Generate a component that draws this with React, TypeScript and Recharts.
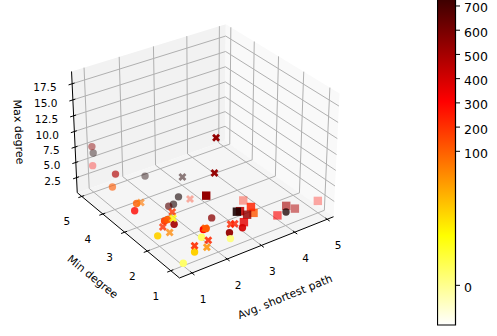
import { Bar, BarChart, Customized, Scatter, ScatterChart, XAxis, YAxis } from "recharts"

const FONT = "DejaVu Sans"
const W = 497
const H = 336

// [avg shortest path, min degree, max degree, colour value]
const circles = [
  [1.0, 5, 4.4, 300], [1.03, 5, 6.4, 800], [1.0, 5, 7.5, 560], [1.05, 4, 5.7, 480],
  [1.9, 4, 3.7, 800], [0.95, 4, 3.8, 110], [2.22, 3, 2.5, 820], [2.07, 3, 1.6, 800],
  [1.93, 3, 1.55, 680], [0.95, 3, 2.85, 290], [1.42, 2, 2.65, 500], [1.0, 1, 0.4, 10],
  [0.95, 2, 1.8, 55], [1.32, 1, 1.5, 55], [2.51, 2, 1.4, 560], [2.32, 1, 2.4, 540],
  [2.7, 1, 2.4, 400], [4.0, 1, 2.2, 800], [1.57, 1, 4.5, 290], [1.65, 1, 4.5, 110],
  [1.52, 1, 3.4, 10], [2.35, 1, 1.4, 5], [1.15, 2, 3.75, 170], [1.24, 2, 3.8, 110],
  [1.01, 3, 3.9, 100],
]

const crosses = [
  [1.92, 1, 17.8, 540], [1.88, 1, 12.6, 540], [2.34, 3, 5.5, 780], [2.56, 3, 1.45, 230],
  [1.13, 3, 3.8, 90], [1.37, 2, 4.7, 190], [1.39, 2, 3.7, 40], [1.1, 2, 2.9, 200],
  [1.29, 2, 1.6, 85], [1.32, 1, 2.5, 210], [1.67, 1, 1.5, 80], [1.71, 1, 2.5, 220],
  [1.62, 1, 4.6, 110], [2.35, 1, 3.7, 220], [2.47, 1, 3.5, 240],
]

const squares = [
  [1.65, 1, 9.6, 540], [3.45, 2, 2.3, 250], [4.98, 1, 2.0, 280], [4.0, 1, 3.2, 500],
  [4.27, 1, 2.2, 480], [3.74, 1, 2.2, 310], [3.02, 1, 4.1, 120], [2.94, 1, 5.2, 230],
  [2.62, 1, 5.2, 440], [2.53, 1, 5.3, 800], [2.83, 1, 4.2, 540], [2.74, 1, 3.2, 360],
]

const pathTicks = [1, 2, 3, 4, 5]
const minDegreeTicks = [1, 2, 3, 4, 5]
const maxDegreeTicks = [2.5, 5, 7.5, 10, 12.5, 15, 17.5]
const colorTicks = [0, 100, 200, 300, 400, 500, 600, 700]

// axis limits of the 3d box
const xLim = [0.65, 5.2]
const yLim = [0.64, 5.22]
const zLim = [0, 19.4]

// view_init(30, -125) style camera
const el = (30 * Math.PI) / 180
const az = (-125 * Math.PI) / 180
const BOX_XY = 1.1905
const BOX_Z = 0.8929
const DIST = 10
const u = [-Math.sin(az), Math.cos(az), 0]
const v = [-Math.sin(el) * Math.cos(az), -Math.sin(el) * Math.sin(az), Math.cos(el)]
const n = [Math.cos(el) * Math.cos(az), Math.cos(el) * Math.sin(az), Math.sin(el)]
const dot = (a: number[], b: number[]) => a[0] * b[0] + a[1] * b[1] + a[2] * b[2]

const box = (x: number, y: number, z: number) => [
  ((x - xLim[0]) / (xLim[1] - xLim[0]) - 0.5) * BOX_XY,
  ((y - yLim[0]) / (yLim[1] - yLim[0]) - 0.5) * BOX_XY,
  ((z - zLim[0]) / (zLim[1] - zLim[0]) - 0.5) * BOX_Z,
]

function project(x: number, y: number, z: number) {
  const p = box(x, y, z)
  const f = DIST / (DIST - dot(p, n))
  return { sx: 203.8 + 158 * f * dot(p, u), sy: 144.8 - 158 * f * dot(p, v) }
}

// the colorbar is piecewise linear: 0..100 is stretched, 100..700 is even
function colorFraction(val: number) {
  if (val <= 100) return 0.1127 + (val / 100) * 0.3807
  return 0.4934 + ((val - 100) / 600) * 0.4129
}

function colorOf(val: number) {
  const t = 1 - Math.min(1, colorFraction(val))
  const clip = (a: number) => Math.round(255 * Math.max(0, Math.min(1, a)))
  const r = clip(0.0416 + (0.9584 * t) / 0.365)
  const g = clip((t - 0.365) / 0.381)
  const b = clip((t - 0.746) / 0.254)
  return `rgb(${r},${g},${b})`
}

function buildSeries(rows: number[][]) {
  const depths = rows.map((r) => -dot(box(r[0], r[1], r[2]), n))
  const lo = Math.min(...depths)
  const hi = Math.max(...depths)
  return rows.map((r, i) => ({
    ...project(r[0], r[1], r[2]),
    fill: colorOf(r[3]),
    alpha: 1 - Math.pow((depths[i] - lo) / (hi - lo), 1.7) * 0.65,
  }))
}

const CircleMark = (props: any) => (
  <circle cx={props.cx} cy={props.cy} r={3.7} fill={props.payload.fill} fillOpacity={props.payload.alpha} />
)
const SquareMark = (props: any) => (
  <rect x={props.cx - 4.2} y={props.cy - 4.2} width={8.4} height={8.4} fill={props.payload.fill} fillOpacity={props.payload.alpha} />
)
const CrossMark = (props: any) => {
  const { cx, cy } = props
  const a = 4
  const b = 2
  const d = `M${cx - a + b},${cy - a}L${cx},${cy - b}L${cx + a - b},${cy - a}L${cx + a},${cy - a + b}L${cx + b},${cy}L${cx + a},${cy + a - b}L${cx + a - b},${cy + a}L${cx},${cy + b}L${cx - a + b},${cy + a}L${cx - a},${cy + a - b}L${cx - b},${cy}L${cx - a},${cy - a + b}Z`
  return <path d={d} fill={props.payload.fill} fillOpacity={props.payload.alpha} />
}

const poly = (pts: { sx: number; sy: number }[]) => pts.map((p) => `${p.sx},${p.sy}`).join(" ")

function Seg({ a, b, color, w }: any) {
  return <line x1={a.sx} y1={a.sy} x2={b.sx} y2={b.sy} stroke={color} strokeWidth={w} />
}

function Frame() {
  const [x0, x1] = xLim
  const [y0, y1] = yLim
  const [z0, z1] = zLim
  const grid = "#b0b0b0"
  return (
    <g fontFamily={FONT} fontSize={10.5} fill="#000">
      <polygon points={poly([project(x0, y1, z0), project(x1, y1, z0), project(x1, y1, z1), project(x0, y1, z1)])} fill="#f2f2f2" />
      <polygon points={poly([project(x1, y0, z0), project(x1, y1, z0), project(x1, y1, z1), project(x1, y0, z1)])} fill="#f9f9f9" />
      <polygon points={poly([project(x0, y0, z0), project(x1, y0, z0), project(x1, y1, z0), project(x0, y1, z0)])} fill="#f5f5f5" />
      {pathTicks.map((t) => (
        <g key={`x${t}`}>
          <polyline points={poly([project(t, y0, z0), project(t, y1, z0), project(t, y1, z1)])} fill="none" stroke={grid} strokeWidth={1} />
          <Seg a={project(t, y0 + 0.07, z0)} b={project(t, y0 - 0.1, z0)} color="#000" w={1} />
          <text x={project(t, y0, z0).sx + 11} y={project(t, y0, z0).sy + 26} textAnchor="middle" dominantBaseline="central">{t}</text>
        </g>
      ))}
      {minDegreeTicks.map((t) => (
        <g key={`y${t}`}>
          <polyline points={poly([project(x0, t, z0), project(x1, t, z0), project(x1, t, z1)])} fill="none" stroke={grid} strokeWidth={1} />
          <Seg a={project(x0 + 0.07, t, z0)} b={project(x0 - 0.1, t, z0)} color="#000" w={1} />
          <text x={project(x0, t, z0).sx - 15} y={project(x0, t, z0).sy + 25} textAnchor="middle" dominantBaseline="central">{t}</text>
        </g>
      ))}
      {maxDegreeTicks.map((t) => (
        <g key={`z${t}`}>
          <polyline points={poly([project(x0, y1, t), project(x1, y1, t), project(x1, y0, t)])} fill="none" stroke={grid} strokeWidth={1} />
          <Seg a={project(x0 + 0.07, y1, t)} b={project(x0 - 0.1, y1, t)} color="#000" w={1} />
          <text x={project(x0, y1, t).sx - 15.5} y={project(x0, y1, t).sy + 3} textAnchor="end" dominantBaseline="central">{t.toFixed(1)}</text>
        </g>
      ))}
      <Seg a={project(x0, y0, z0)} b={project(x1, y0, z0)} color="#000" w={1} />
      <Seg a={project(x0, y0, z0)} b={project(x0, y1, z0)} color="#000" w={1} />
      <Seg a={project(x0, y1, z0)} b={project(x0, y1, z1)} color="#000" w={1} />
      <g fontSize={11}>
        <text transform="translate(285,297) rotate(-22)" textAnchor="middle" dominantBaseline="central">Avg. shortest path</text>
        <text transform="translate(92.5,277) rotate(39)" textAnchor="middle" dominantBaseline="central">Min degree</text>
        <text transform="translate(18.5,132) rotate(87)" textAnchor="middle" dominantBaseline="central">Max degree</text>
      </g>
    </g>
  )
}

const colorBarData = [{ name: "c", span: 1 }]
const colorTickMap = colorTicks.map((t) => colorFraction(t))

export default function App() {
  return (
    <div style={{ position: "absolute", left: 0, top: 0, width: W, height: H, overflow: "hidden", background: "#fff" }}>
      <div style={{ position: "absolute", left: 0, top: 0 }}>
        <ScatterChart width={W} height={H} margin={{ top: 0, right: 0, bottom: 0, left: 0 }}>
          <XAxis type="number" dataKey="sx" domain={[0, W]} hide />
          <YAxis type="number" dataKey="sy" domain={[0, H]} reversed hide />
          <Customized component={Frame} />
          <Scatter data={buildSeries(squares)} shape={SquareMark} isAnimationActive={false} />
          <Scatter data={buildSeries(circles)} shape={CircleMark} isAnimationActive={false} />
          <Scatter data={buildSeries(crosses)} shape={CrossMark} isAnimationActive={false} />
        </ScatterChart>
      </div>
      <div style={{ position: "absolute", left: 437, top: -27 }}>
        <BarChart width={60} height={353} data={colorBarData} barCategoryGap={0} margin={{ top: 0, right: 0, bottom: 1, left: 0.5 }}>
          <defs>
            <linearGradient id="hotr" x1="0" y1="1" x2="0" y2="0">
              <stop offset={0} stopColor="#ffffff" />
              <stop offset={0.254} stopColor="#ffff00" />
              <stop offset={0.635} stopColor="#ff0000" />
              <stop offset={1} stopColor="#0b0000" />
            </linearGradient>
          </defs>
          <XAxis dataKey="name" hide />
          <YAxis
            orientation="right"
            type="number"
            domain={[0, 1]}
            ticks={colorTickMap}
            interval={0}
            width={42}
            axisLine={false}
            tickSize={5}
            tickMargin={4}
            tickLine={{ stroke: "#000" }}
            tick={{ fill: "#000", fontSize: 12.5, fontFamily: FONT, dy: 2 }}
            tickFormatter={(f: number) => String(colorTicks[colorTickMap.indexOf(f)])}
          />
          <Bar dataKey="span" fill="url(#hotr)" stroke="#000" strokeWidth={1.2} isAnimationActive={false} />
        </BarChart>
      </div>
    </div>
  )
}
